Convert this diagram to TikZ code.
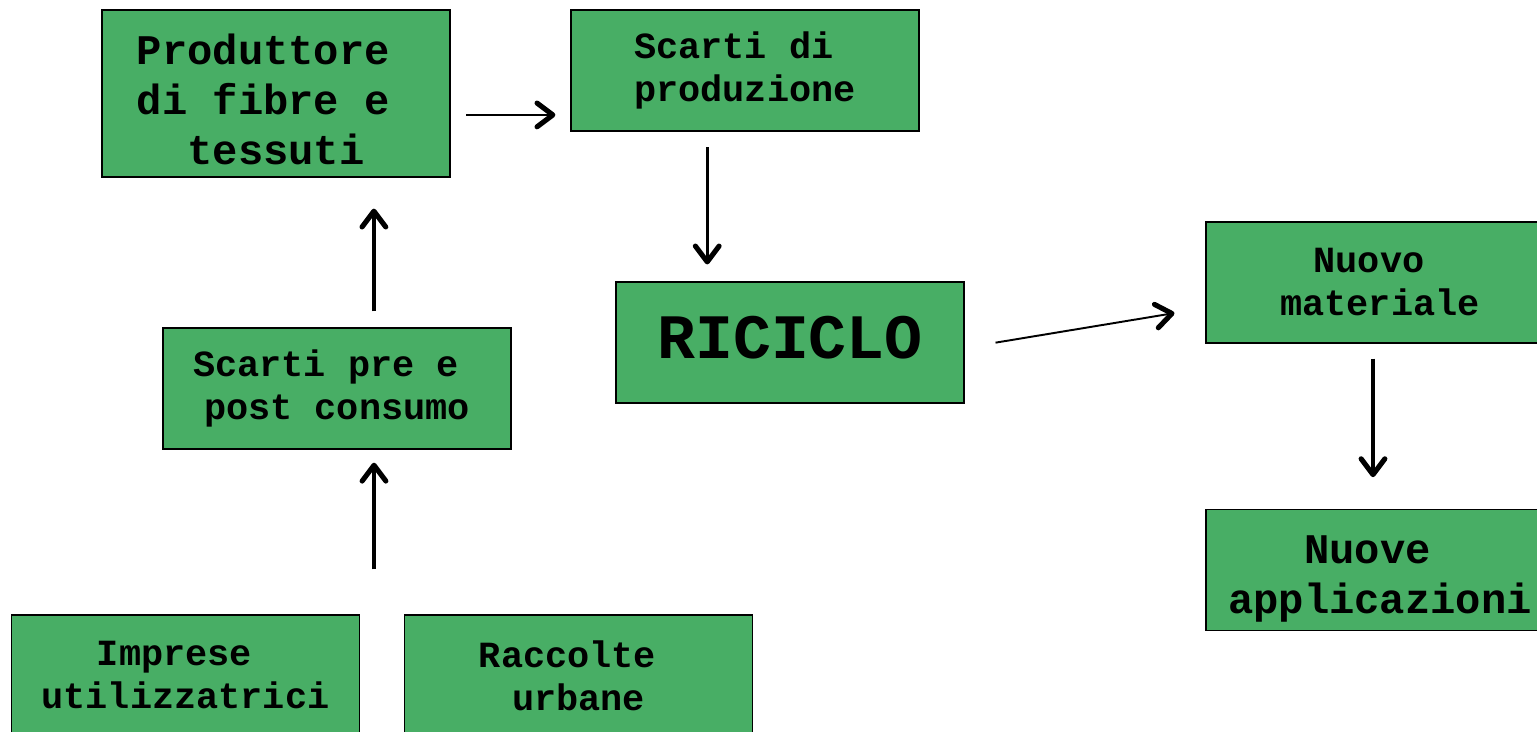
\documentclass[tikz,border=0pt]{standalone}
\usepackage{fontspec}
\setmainfont{Liberation Mono}
\usetikzlibrary{arrows.meta}

\definecolor{boxgreen}{RGB}{72,174,101}

% blank of one character width at a line end
\newcommand{\tsp}{\hphantom{x}}

\tikzset{
    box/.style={draw=black, line width=0.8pt, fill=boxgreen, inner sep=0pt,
        minimum width=6.96cm, minimum height=2.42cm, align=center,
        font=\bfseries\fontsize{21}{24.5}\selectfont},
    bigtext/.style={align=center, inner sep=0pt, font=\bfseries\fontsize{24}{28.5}\selectfont},
    arr/.style={line width=1.9pt,
        -{Straight Barb[length=9pt, width=13.5pt, line width=2.9pt, round]}}
}

\begin{document}
\begin{tikzpicture}[x=0.02cm, y=-0.02cm]
            \useasboundingbox (0,0) rectangle (1537,732);
            \clip (0,0) rectangle (1537,732);

            % boxes
            \node[box, minimum height=3.34cm,
                label={[bigtext, yshift=-3.4pt]center:{Produttore\tsp\\di fibre e\tsp\\tessuti}}] (prod) at (276,93.5) {};
            \node[box, align=left] (scarti) at (745,70.5) {Scarti di\\produzione};
            \node[box, label={[bigtext, font=\bfseries\fontsize{36}{40}\selectfont, yshift=2.8pt]center:{RICICLO}}] (ric) at (790,342.5) {};
            \node[box] (nuovo) at (1380,282.5) {Nuovo\tsp\\materiale};
            \node[box, label={[bigtext, yshift=-5.1pt]center:{Nuove\tsp\\applicazioni}}] (appl) at (1380,570) {};
            \node[box] (pre) at (337,388.5) {Scarti pre e\tsp\\post consumo};
            \node[box] (impr) at (185.5,675.5) {Imprese\tsp\\utilizzatrici};
            \node[box] (racc) at (578.5,675.5) {Raccolte\tsp\\urbane};

            % free end between the two bottom boxes
            \coordinate (gap) at (374,615);

            % arrows
            \draw[arr, line width=1.1pt, shorten <=9pt, shorten >=8.5pt]
                ([yshift=-12.2pt]prod.east) -- ([yshift=-12.2pt]prod.east -| scarti.west);
            \draw[arr, shorten <=9pt, shorten >=9.6pt]
                ([xshift=-21.5pt]scarti.south) -- ([xshift=-21.5pt]scarti.south |- ric.north);
            \draw[arr, shorten <=9pt, shorten >=17.6pt]
                ([xshift=21pt]pre.north) -- ([xshift=21pt]pre.north |- prod.south);
            \draw[arr, shorten <=26pt, shorten >=7.4pt]
                (gap) -- (gap |- pre.south);
            \draw[arr, line width=1.1pt, shorten <=17.8pt, shorten >=17.8pt]
                ([yshift=-3pt]ric.east) -- ([yshift=-14.5pt]nuovo.west);
            \draw[arr, shorten <=8.5pt, shorten >=18pt]
                ([xshift=-4pt]nuovo.south) -- ([xshift=-4pt]nuovo.south |- appl.north);
        \end{tikzpicture}
\end{document}
